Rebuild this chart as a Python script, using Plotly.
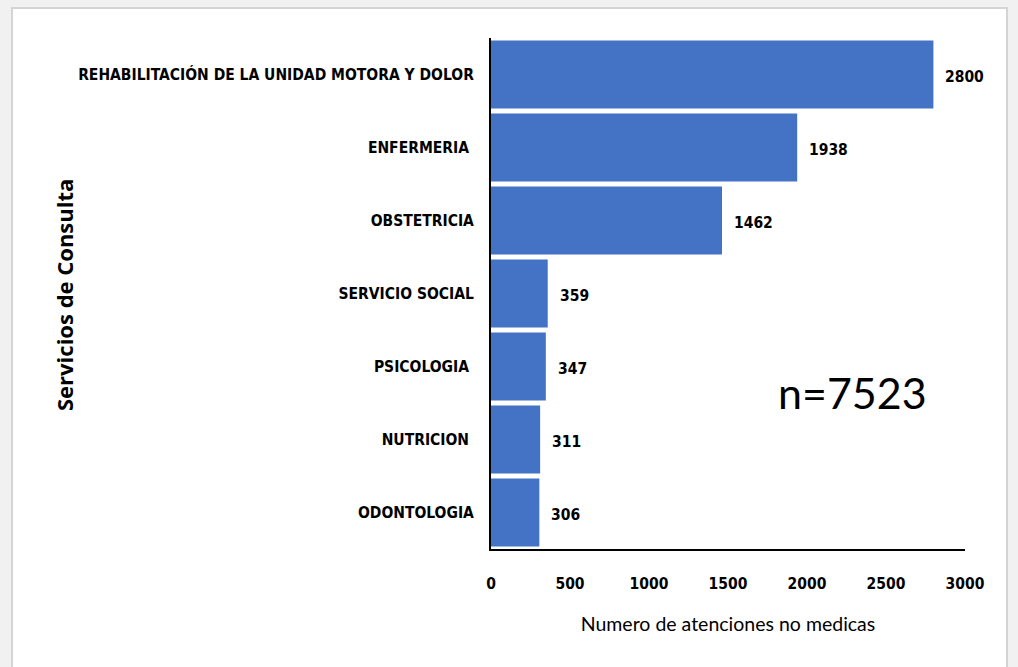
import plotly.graph_objects as go

categories = [
    "REHABILITACIÓN DE LA UNIDAD MOTORA Y DOLOR",
    "ENFERMERIA\u00a0",
    "OBSTETRICIA",
    "SERVICIO SOCIAL",
    "PSICOLOGIA\u00a0",
    "NUTRICION\u00a0",
    "ODONTOLOGIA",
]
values = [2800, 1938, 1462, 359, 347, 311, 306]
x_ticks = [0, 500, 1000, 1500, 2000, 2500, 3000]
total_label = "n=7523"

W, H = 1018, 667
L, R, T, B = 491, 53, 38, 118
pw, ph = W - L - R, H - T - B

def px_x(p):
    return (p - L) / pw

def px_y(p):
    return (H - B - p) / ph

label_font = dict(family="DejaVu Sans Condensed, Lato, sans-serif", size=15.5, color="black", weight="bold")
num_font = dict(family="DejaVu Sans Condensed, Lato, sans-serif", size=15.5, color="black", weight="bold")

fig = go.Figure()
fig.add_trace(go.Bar(
    x=values, y=categories, orientation="h",
    marker=dict(color="#4472C4", line=dict(width=0)),
    hoverinfo="x+y",
))

for c, v in zip(categories, values):
    fig.add_annotation(
        x=v, y=c, text=str(v), showarrow=False,
        xanchor="left", yanchor="middle", xshift=10, yshift=-2,
        font=num_font,
    )

fig.add_annotation(
    x=2285, y=4.36, text=total_label, showarrow=False,
    xanchor="center", yanchor="middle",
    font=dict(family="Lato, Carlito, sans-serif", size=43, color="black", weight="normal"),
)

fig.add_shape(
    type="rect", xref="paper", yref="paper", layer="below",
    x0=px_x(12), x1=px_x(1007), y0=px_y(8), y1=px_y(700),
    fillcolor="white", line=dict(color="#d4d4d4", width=2),
)

fig.add_annotation(
    xref="paper", yref="paper", x=px_x(64), y=px_y(295),
    text="Servicios de Consulta", textangle=-90, showarrow=False,
    xanchor="center", yanchor="middle",
    font=dict(family="Open Sans, sans-serif", size=22, color="black", weight="bold"),
)

fig.update_layout(
    width=W, height=H,
    margin=dict(l=L, r=R, t=T, b=B, autoexpand=False),
    paper_bgcolor="#f1f1f1",
    plot_bgcolor="white",
    bargap=0.07,
    showlegend=False,
    font=dict(family="Lato, sans-serif", color="black"),
)
fig.update_xaxes(
    range=[0, 3000], tickvals=x_ticks,
    showgrid=False, zeroline=False,
    showline=True, linecolor="black", linewidth=2,
    ticks="", ticklabelstandoff=19,
    tickfont=num_font,
    title=dict(text="Numero de atenciones no medicas",
               font=dict(family="Lato, Carlito, sans-serif", size=19.5, color="black", weight="normal"),
               standoff=26),
)
fig.update_yaxes(
    autorange="reversed",
    showgrid=False, zeroline=False,
    showline=True, linecolor="black", linewidth=2,
    ticks="", ticklabelstandoff=12,
    tickfont=label_font,
)

fig.write_html(
    "out.html",
    config={"displayModeBar": False},
    post_script="document.body.style.margin='0';document.body.style.background='#f1f1f1';",
)
